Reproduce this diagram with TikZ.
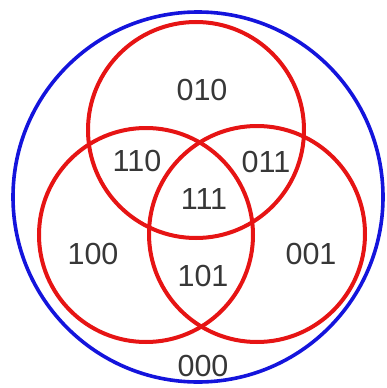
\documentclass[tikz,border=0pt]{standalone}
\usepackage{fontspec}
\setmainfont{Liberation Sans}
\usepackage{tikz}
\definecolor{vblue}{RGB}{20,20,220}
\definecolor{vred}{RGB}{230,20,20}
\definecolor{vtext}{RGB}{55,55,55}
\tikzset{set/.style={draw=vred,line width=4pt},
  lbl/.style={text=vtext,font=\fontsize{30.5}{31}\selectfont}}

\begin{document}
\begin{tikzpicture}[x=1pt,y=-1pt]
\useasboundingbox (0,0) rectangle (387,388);
\draw[vblue,line width=3.6pt] (198,197) circle(185);
\draw[set] (196,130) circle(108);\draw[set] (146,235) circle(107);
\draw[set] (257,234) circle(108);
\node[lbl] (n010) at (202,90){010};
\node[lbl] (n110) at (137,161){110};
\node[lbl] (n011) at (266,162){011};
\node[lbl] (n111) at (204,199){111};
\node[lbl] (n100) at (93,254){100};
\node[lbl] (n101) at (203,276){101};
\node[lbl] (n001) at (311,254){001};
\node[lbl] (n000) at (203,366){000};
\end{tikzpicture}
\end{document}
